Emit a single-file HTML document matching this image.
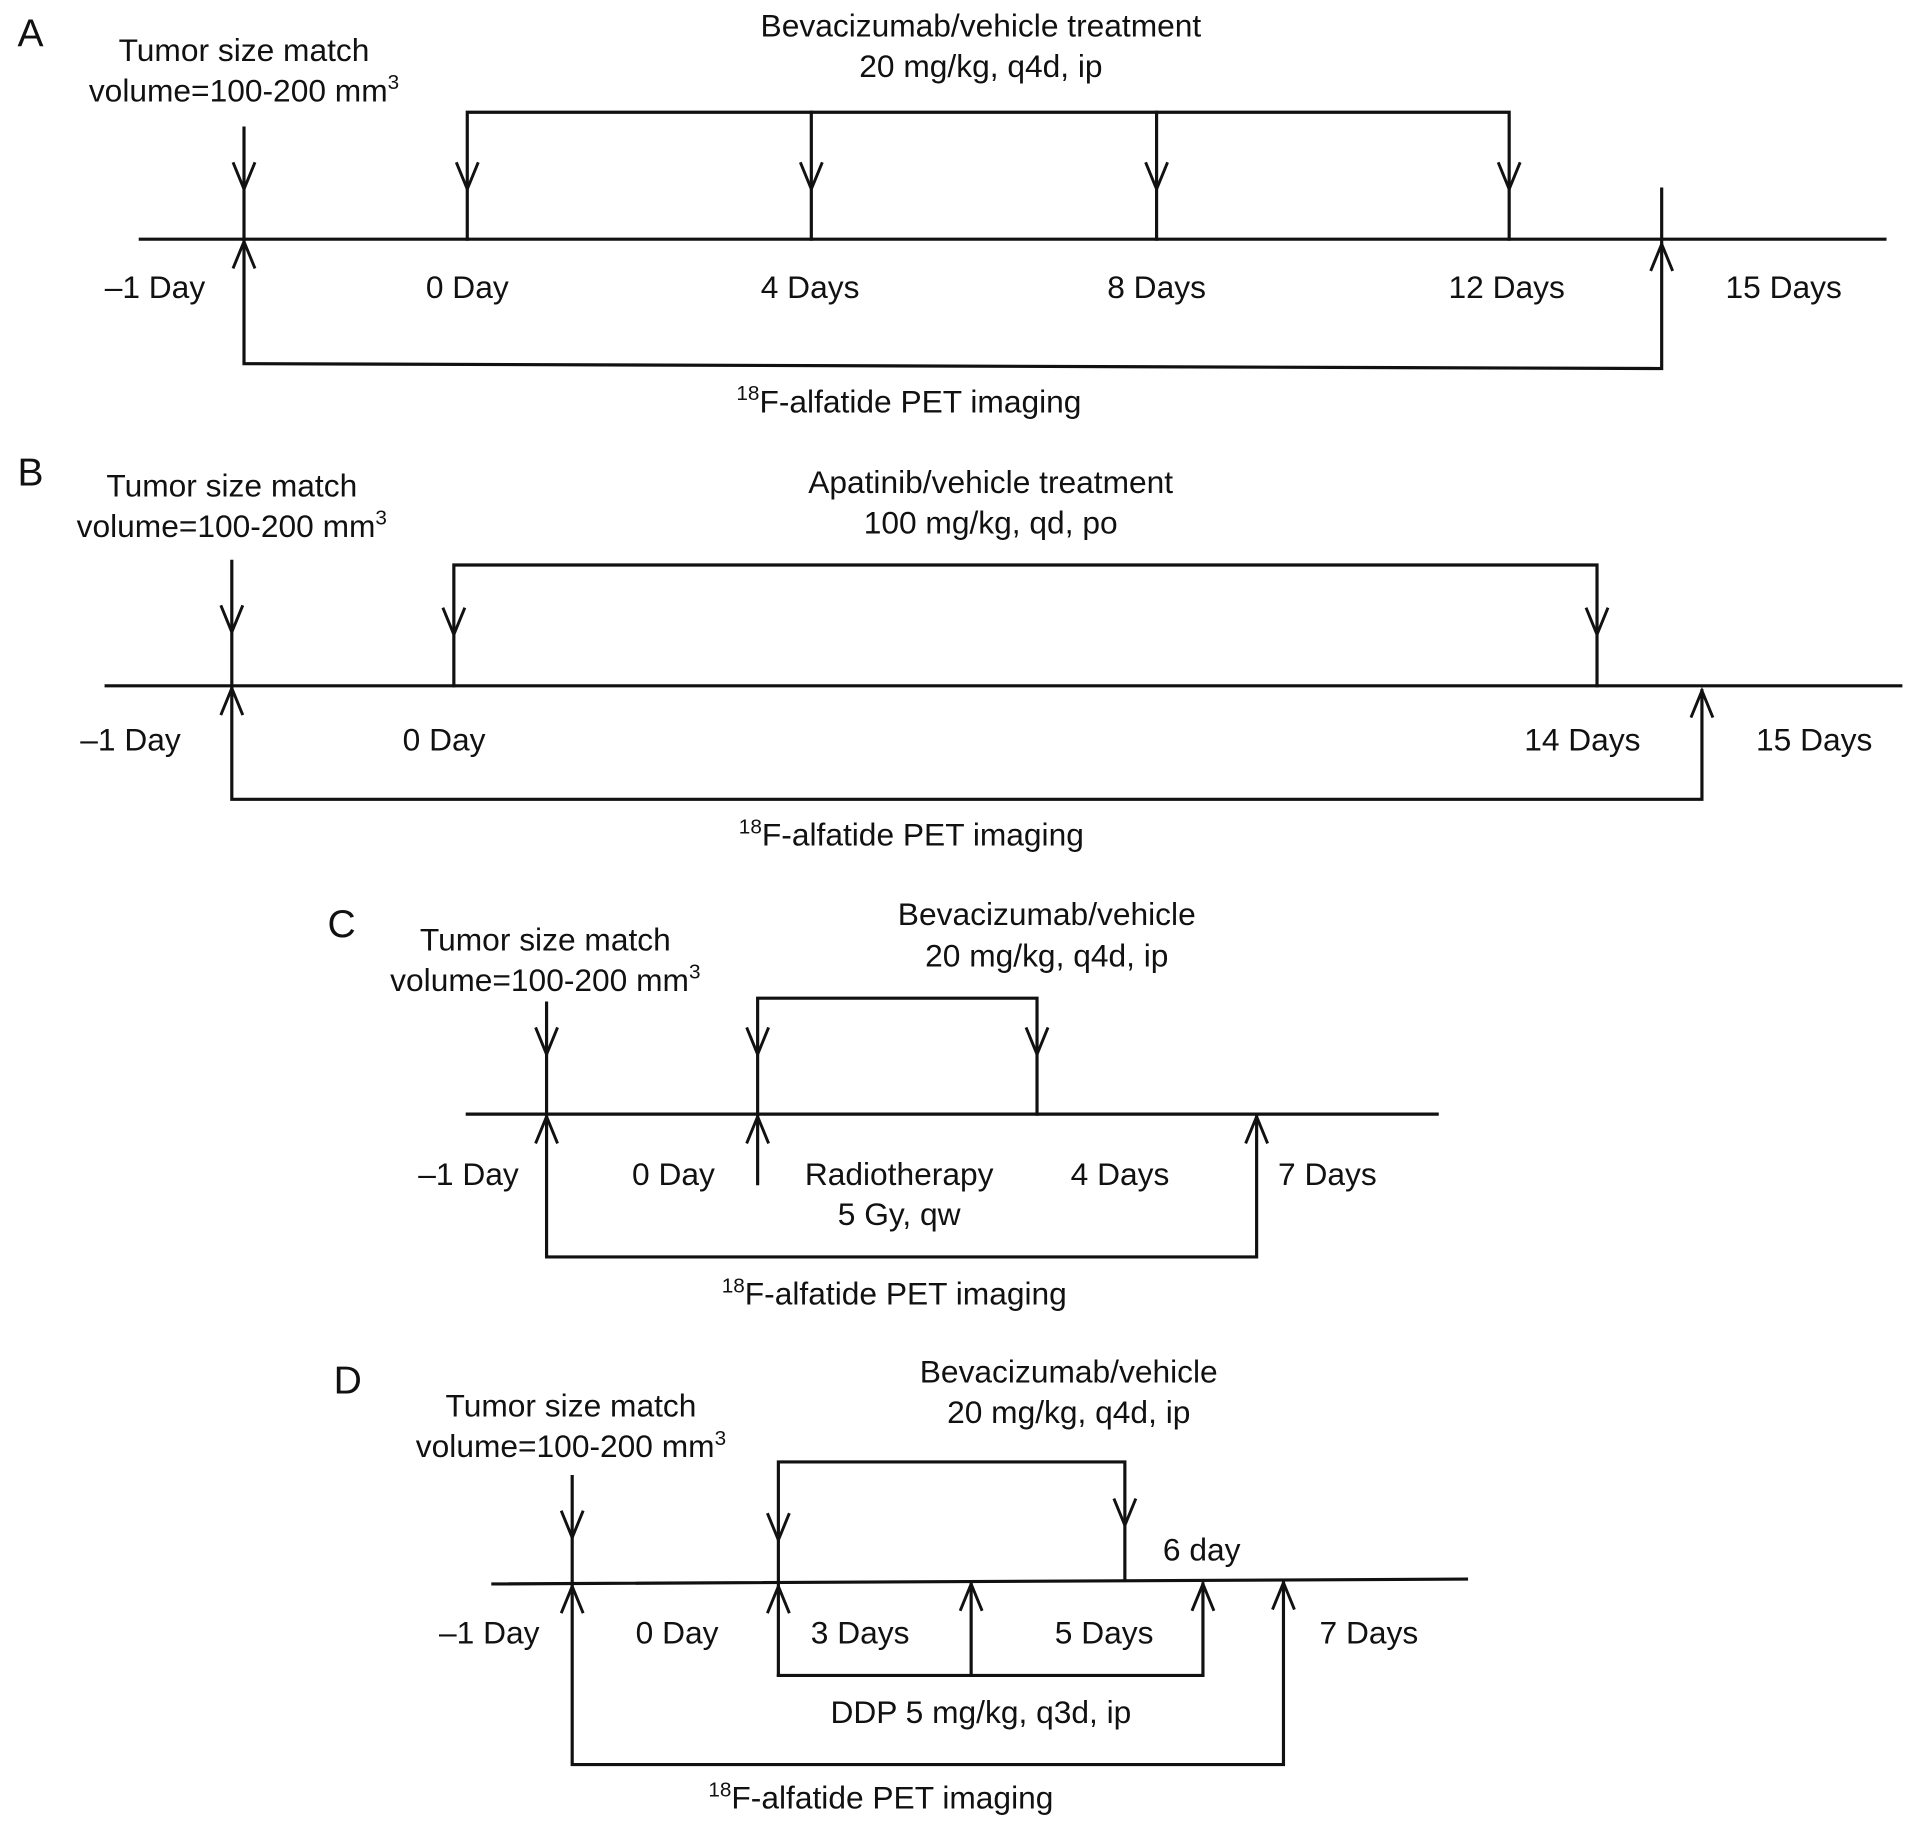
<!DOCTYPE html>
<html><head><meta charset="utf-8"><style>
html,body{margin:0;padding:0;background:#fff;}
svg{display:block;}
text{font-family:"Liberation Sans",Arial,sans-serif;font-size:26px;fill:#111;text-anchor:middle;}
.l{fill:none;stroke:#111;stroke-width:2.6;stroke-linecap:square;}
.h{fill:none;stroke:#111;stroke-width:2.4;}
</style></head><body>
<svg width="1913" height="1828" viewBox="0 0 1568 1498" preserveAspectRatio="none" xmlns="http://www.w3.org/2000/svg">
<!-- Panel A -->
<text x="25" y="38" style="font-size:32px">A</text>
<text x="200" y="50">Tumor size match</text>
<text x="200" y="83">volume=100-200 mm<tspan dy="-10" style="font-size:17px">3</tspan></text>
<text x="804" y="30">Bevacizumab/vehicle treatment</text>
<text x="804" y="63">20 mg/kg, q4d, ip</text>
<line class="l" x1="115" y1="196" x2="1545" y2="196"/>
<line class="l" x1="200" y1="105" x2="200" y2="196"/>
<polyline class="h" points="191,133 200,155 209,133"/>
<polyline class="l" points="383,196 383,92 1237,92 1237,196"/>
<line class="l" x1="665" y1="92" x2="665" y2="196"/>
<line class="l" x1="948" y1="92" x2="948" y2="196"/>
<polyline class="h" points="374,133 383,155 392,133"/>
<polyline class="h" points="656,133 665,155 674,133"/>
<polyline class="h" points="939,133 948,155 957,133"/>
<polyline class="h" points="1228,133 1237,155 1246,133"/>
<polyline class="l" points="200,198 200,298 1362,302 1362,155"/>
<polyline class="h" points="191,220 200,198 209,220"/>
<polyline class="h" points="1353,222 1362,200 1371,222"/>
<text x="127" y="244">–1 Day</text>
<text x="383" y="244">0 Day</text>
<text x="664" y="244">4 Days</text>
<text x="948" y="244">8 Days</text>
<text x="1235" y="244">12 Days</text>
<text x="1462" y="244">15 Days</text>
<text x="745" y="338"><tspan dy="-10" style="font-size:17px">18</tspan><tspan dy="10">F-alfatide PET imaging</tspan></text>

<!-- Panel B -->
<text x="25" y="398" style="font-size:32px">B</text>
<text x="190" y="407">Tumor size match</text>
<text x="190" y="440">volume=100-200 mm<tspan dy="-10" style="font-size:17px">3</tspan></text>
<text x="812" y="404">Apatinib/vehicle treatment</text>
<text x="812" y="437">100 mg/kg, qd, po</text>
<line class="l" x1="87" y1="562" x2="1558" y2="562"/>
<line class="l" x1="190" y1="460" x2="190" y2="562"/>
<polyline class="h" points="181,496 190,518 199,496"/>
<polyline class="l" points="372,562 372,463 1309,463 1309,562"/>
<polyline class="h" points="363,498 372,520 381,498"/>
<polyline class="h" points="1300,498 1309,520 1318,498"/>
<polyline class="l" points="190,564 190,655 1395,655 1395,566"/>
<polyline class="h" points="181,586 190,564 199,586"/>
<polyline class="h" points="1386,588 1395,566 1404,588"/>
<text x="107" y="615">–1 Day</text>
<text x="364" y="615">0 Day</text>
<text x="1297" y="615">14 Days</text>
<text x="1487" y="615">15 Days</text>
<text x="747" y="693"><tspan dy="-10" style="font-size:17px">18</tspan><tspan dy="10">F-alfatide PET imaging</tspan></text>

<!-- Panel C -->
<text x="280" y="768" style="font-size:32px">C</text>
<text x="447" y="779">Tumor size match</text>
<text x="447" y="812">volume=100-200 mm<tspan dy="-10" style="font-size:17px">3</tspan></text>
<text x="858" y="758">Bevacizumab/vehicle</text>
<text x="858" y="792">20 mg/kg, q4d, ip</text>
<line class="l" x1="383" y1="913" x2="1178" y2="913"/>
<line class="l" x1="448" y1="822" x2="448" y2="913"/>
<polyline class="h" points="439,842 448,864 457,842"/>
<polyline class="l" points="621,970 621,818 850,818 850,913"/>
<polyline class="h" points="612,842 621,864 630,842"/>
<polyline class="h" points="841,842 850,864 859,842"/>
<polyline class="h" points="612,937 621,915 630,937"/>
<polyline class="l" points="448,915 448,1030 1030,1030 1030,915"/>
<polyline class="h" points="439,937 448,915 457,937"/>
<polyline class="h" points="1021,937 1030,915 1039,937"/>
<text x="384" y="971">–1 Day</text>
<text x="552" y="971">0 Day</text>
<text x="737" y="971">Radiotherapy</text>
<text x="737" y="1004">5 Gy, qw</text>
<text x="918" y="971">4 Days</text>
<text x="1088" y="971">7 Days</text>
<text x="733" y="1069"><tspan dy="-10" style="font-size:17px">18</tspan><tspan dy="10">F-alfatide PET imaging</tspan></text>

<!-- Panel D -->
<text x="285" y="1142" style="font-size:32px">D</text>
<text x="468" y="1161">Tumor size match</text>
<text x="468" y="1194">volume=100-200 mm<tspan dy="-10" style="font-size:17px">3</tspan></text>
<text x="876" y="1133">Bevacizumab/vehicle</text>
<text x="876" y="1166">20 mg/kg, q4d, ip</text>
<line class="l" x1="404" y1="1298" x2="1202" y2="1294"/>
<line class="l" x1="469" y1="1210" x2="469" y2="1297"/>
<polyline class="h" points="460,1238 469,1260 478,1238"/>
<polyline class="l" points="638,1373 638,1198 922,1198 922,1294"/>
<polyline class="h" points="629,1240 638,1262 647,1240"/>
<polyline class="h" points="913,1228 922,1250 931,1228"/>
<text x="985" y="1279">6 day</text>
<polyline class="l" points="638,1373 986,1373 986,1298"/>
<line class="l" x1="796" y1="1373" x2="796" y2="1298"/>
<polyline class="h" points="629,1322 638,1300 647,1322"/>
<polyline class="h" points="787,1320 796,1298 805,1320"/>
<polyline class="h" points="977,1320 986,1298 995,1320"/>
<polyline class="l" points="469,1300 469,1446 1052,1446 1052,1297"/>
<polyline class="h" points="460,1322 469,1300 478,1322"/>
<polyline class="h" points="1043,1319 1052,1297 1061,1319"/>
<text x="401" y="1347">–1 Day</text>
<text x="555" y="1347">0 Day</text>
<text x="705" y="1347">3 Days</text>
<text x="905" y="1347">5 Days</text>
<text x="1122" y="1347">7 Days</text>
<text x="804" y="1412">DDP 5 mg/kg, q3d, ip</text>
<text x="722" y="1482"><tspan dy="-10" style="font-size:17px">18</tspan><tspan dy="10">F-alfatide PET imaging</tspan></text>
</svg>
</body></html>
